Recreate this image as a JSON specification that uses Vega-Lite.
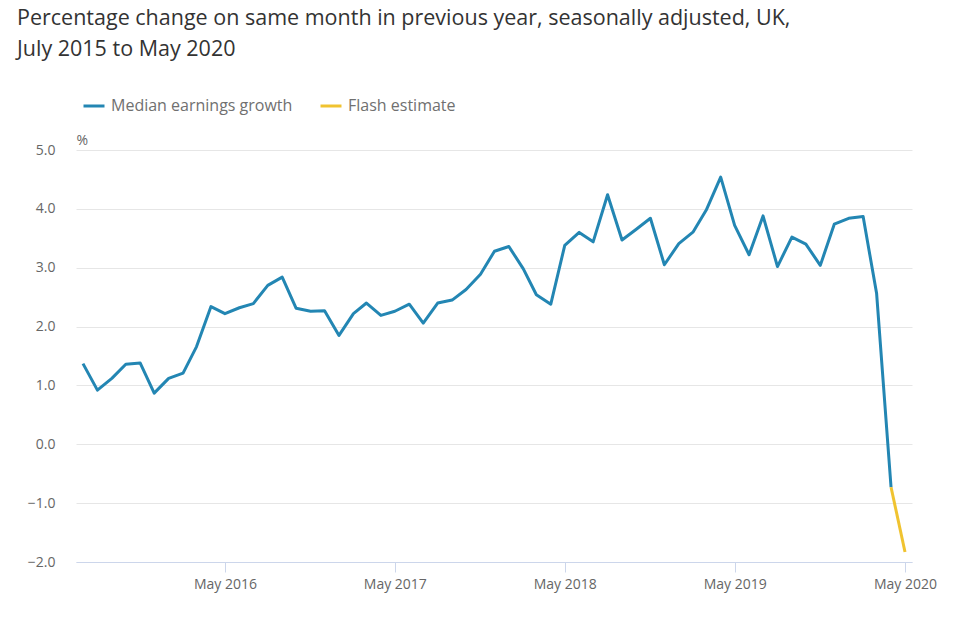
{
  "$schema": "https://vega.github.io/schema/vega-lite/v6.json",
  "autosize": "none",
  "width": 836,
  "height": 412,
  "padding": {"left": 76, "top": 150, "right": 48, "bottom": 55},
  "background": "white",
  "view": {"stroke": null},
  "title": {
    "text": ["Percentage change on same month in previous year, seasonally adjusted, UK,", "July 2015 to May 2020"],
    "anchor": "start",
    "frame": "group",
    "orient": "top",
    "baseline": "top",
    "dx": -59,
    "offset": 34,
    "font": "Open Sans",
    "fontSize": 21.5,
    "fontWeight": "normal",
    "lineHeight": 31,
    "color": "#333333"
  },
  "data": {
    "values": [
      {"date": "2015-07-01", "value": 1.37, "series": "Median earnings growth"},
      {"date": "2015-08-01", "value": 0.92, "series": "Median earnings growth"},
      {"date": "2015-09-01", "value": 1.12, "series": "Median earnings growth"},
      {"date": "2015-10-01", "value": 1.36, "series": "Median earnings growth"},
      {"date": "2015-11-01", "value": 1.38, "series": "Median earnings growth"},
      {"date": "2015-12-01", "value": 0.87, "series": "Median earnings growth"},
      {"date": "2016-01-01", "value": 1.12, "series": "Median earnings growth"},
      {"date": "2016-02-01", "value": 1.21, "series": "Median earnings growth"},
      {"date": "2016-03-01", "value": 1.66, "series": "Median earnings growth"},
      {"date": "2016-04-01", "value": 2.34, "series": "Median earnings growth"},
      {"date": "2016-05-01", "value": 2.22, "series": "Median earnings growth"},
      {"date": "2016-06-01", "value": 2.32, "series": "Median earnings growth"},
      {"date": "2016-07-01", "value": 2.39, "series": "Median earnings growth"},
      {"date": "2016-08-01", "value": 2.70, "series": "Median earnings growth"},
      {"date": "2016-09-01", "value": 2.84, "series": "Median earnings growth"},
      {"date": "2016-10-01", "value": 2.31, "series": "Median earnings growth"},
      {"date": "2016-11-01", "value": 2.26, "series": "Median earnings growth"},
      {"date": "2016-12-01", "value": 2.27, "series": "Median earnings growth"},
      {"date": "2017-01-01", "value": 1.85, "series": "Median earnings growth"},
      {"date": "2017-02-01", "value": 2.22, "series": "Median earnings growth"},
      {"date": "2017-03-01", "value": 2.40, "series": "Median earnings growth"},
      {"date": "2017-04-01", "value": 2.19, "series": "Median earnings growth"},
      {"date": "2017-05-01", "value": 2.26, "series": "Median earnings growth"},
      {"date": "2017-06-01", "value": 2.38, "series": "Median earnings growth"},
      {"date": "2017-07-01", "value": 2.06, "series": "Median earnings growth"},
      {"date": "2017-08-01", "value": 2.40, "series": "Median earnings growth"},
      {"date": "2017-09-01", "value": 2.45, "series": "Median earnings growth"},
      {"date": "2017-10-01", "value": 2.63, "series": "Median earnings growth"},
      {"date": "2017-11-01", "value": 2.89, "series": "Median earnings growth"},
      {"date": "2017-12-01", "value": 3.28, "series": "Median earnings growth"},
      {"date": "2018-01-01", "value": 3.36, "series": "Median earnings growth"},
      {"date": "2018-02-01", "value": 2.98, "series": "Median earnings growth"},
      {"date": "2018-03-01", "value": 2.54, "series": "Median earnings growth"},
      {"date": "2018-04-01", "value": 2.38, "series": "Median earnings growth"},
      {"date": "2018-05-01", "value": 3.38, "series": "Median earnings growth"},
      {"date": "2018-06-01", "value": 3.60, "series": "Median earnings growth"},
      {"date": "2018-07-01", "value": 3.44, "series": "Median earnings growth"},
      {"date": "2018-08-01", "value": 4.24, "series": "Median earnings growth"},
      {"date": "2018-09-01", "value": 3.47, "series": "Median earnings growth"},
      {"date": "2018-10-01", "value": 3.65, "series": "Median earnings growth"},
      {"date": "2018-11-01", "value": 3.84, "series": "Median earnings growth"},
      {"date": "2018-12-01", "value": 3.05, "series": "Median earnings growth"},
      {"date": "2019-01-01", "value": 3.41, "series": "Median earnings growth"},
      {"date": "2019-02-01", "value": 3.61, "series": "Median earnings growth"},
      {"date": "2019-03-01", "value": 3.98, "series": "Median earnings growth"},
      {"date": "2019-04-01", "value": 4.54, "series": "Median earnings growth"},
      {"date": "2019-05-01", "value": 3.72, "series": "Median earnings growth"},
      {"date": "2019-06-01", "value": 3.22, "series": "Median earnings growth"},
      {"date": "2019-07-01", "value": 3.88, "series": "Median earnings growth"},
      {"date": "2019-08-01", "value": 3.02, "series": "Median earnings growth"},
      {"date": "2019-09-01", "value": 3.52, "series": "Median earnings growth"},
      {"date": "2019-10-01", "value": 3.40, "series": "Median earnings growth"},
      {"date": "2019-11-01", "value": 3.04, "series": "Median earnings growth"},
      {"date": "2019-12-01", "value": 3.74, "series": "Median earnings growth"},
      {"date": "2020-01-01", "value": 3.84, "series": "Median earnings growth"},
      {"date": "2020-02-01", "value": 3.87, "series": "Median earnings growth"},
      {"date": "2020-03-01", "value": 2.56, "series": "Median earnings growth"},
      {"date": "2020-04-01", "value": -0.73, "series": "Median earnings growth"},
      {"date": "2020-04-01", "value": -0.73, "series": "Flash estimate"},
      {"date": "2020-05-01", "value": -1.83, "series": "Flash estimate"}
    ]
  },
  "mark": {"type": "line", "strokeWidth": 3, "strokeJoin": "round", "strokeCap": "butt"},
  "encoding": {
    "x": {
      "field": "date",
      "type": "temporal",
      "scale": {
        "type": "utc",
        "domain": [
          {"year": 2015, "month": 6, "date": 16, "utc": true},
          {"year": 2020, "month": 5, "date": 16, "utc": true}
        ]
      },
      "axis": {
        "title": null,
        "values": [
          {"year": 2016, "month": 5, "date": 1, "utc": true},
          {"year": 2017, "month": 5, "date": 1, "utc": true},
          {"year": 2018, "month": 5, "date": 1, "utc": true},
          {"year": 2019, "month": 5, "date": 1, "utc": true},
          {"year": 2020, "month": 5, "date": 1, "utc": true}
        ],
        "labelExpr": "utcFormat(datum.value, '%b %Y')",
        "grid": false,
        "domainColor": "#ccd6eb",
        "domainWidth": 1,
        "tickColor": "#ccd6eb",
        "tickSize": 10,
        "tickWidth": 1,
        "labelFont": "Open Sans",
        "labelFontSize": 14,
        "labelColor": "#666666",
        "labelPadding": 5,
        "labelFlush": false,
        "labelOverlap": false
      }
    },
    "y": {
      "field": "value",
      "type": "quantitative",
      "scale": {"domain": [-2, 5], "nice": false, "zero": false},
      "axis": {
        "values": [-2, -1, 0, 1, 2, 3, 4, 5],
        "format": ".1f",
        "domain": false,
        "ticks": false,
        "grid": true,
        "gridColor": "#e6e6e6",
        "gridWidth": 1,
        "labelFont": "Open Sans",
        "labelFontSize": 14,
        "labelColor": "#666666",
        "labelPadding": 21,
        "title": "%",
        "titleAngle": 0,
        "titleAlign": "left",
        "titleBaseline": "alphabetic",
        "titleX": 0,
        "titleY": -6,
        "titleFont": "Open Sans",
        "titleFontSize": 14,
        "titleFontWeight": "normal",
        "titleColor": "#666666"
      }
    },
    "color": {
      "field": "series",
      "type": "nominal",
      "scale": {
        "domain": ["Median earnings growth", "Flash estimate"],
        "range": ["#2386b3", "#f0c330"]
      },
      "legend": {
        "title": null,
        "orient": "none",
        "direction": "horizontal",
        "legendX": 6,
        "legendY": -56,
        "symbolType": "stroke",
        "symbolSize": 441,
        "symbolStrokeWidth": 3,
        "labelFont": "Open Sans",
        "labelFontSize": 16,
        "labelLimit": 400,
        "labelColor": "#707070",
        "labelOffset": 5,
        "columnPadding": 21,
        "padding": 0
      }
    }
  }
}
